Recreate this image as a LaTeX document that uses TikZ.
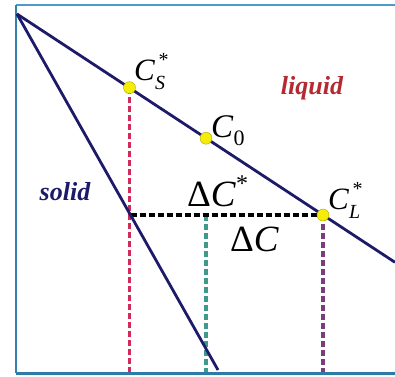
\documentclass[tikz,border=0pt]{standalone}
\usepackage{fontspec}
\setmainfont{Liberation Serif}
\definecolor{navy}{HTML}{1E1A6A}
\definecolor{framea}{HTML}{4B9BCF}
\definecolor{frameb}{HTML}{2A7BA5}
\definecolor{crim}{HTML}{D22A5A}
\definecolor{tealc}{HTML}{3E9A8C}
\definecolor{purp}{HTML}{7A3C7C}
\definecolor{liqred}{HTML}{B52A32}
\definecolor{dotyel}{HTML}{F6EC0A}
\newcommand{\fs}[1]{\fontsize{#1}{#1}\selectfont}
\begin{document}
\begin{tikzpicture}[x=1pt,y=-1pt,
  curve/.style={draw=navy,line width=2.8pt},
  dashline/.style={line width=3.2pt,dash pattern=on 6pt off 3pt},
  dot/.style={circle,fill=dotyel,draw=dotyel!70!black,line width=0.4pt,minimum size=12pt,inner sep=0pt},
  lbl/.style={inner sep=0pt,text=black},
  phase/.style={inner sep=0pt,font=\fs{26}\bfseries\itshape}]
\useasboundingbox (0,0) rectangle (395,376);
% frame
\draw[framea,line width=2.2pt] (16,5) -- (395,5);
\draw[frameb!80!framea,line width=2.4pt] (16,5) -- (16,373);
\draw[frameb,line width=3pt] (16,373) -- (395,373);
% points
\coordinate (A) at (17,14);
\coordinate (E) at (395,262.3);
\coordinate (B) at (218,370);
\coordinate (P) at (130.5,215);
\coordinate (Sb) at (129.5,372);
\coordinate (Cb) at (206,372);
\coordinate (Lb) at (323,372);
\coordinate (Cm) at (206,215);
% dashed lines
\draw[dashline,crim] (129.5,88) -- (Sb);
\draw[dashline,tealc] (Cm) -- (Cb);
\draw[dashline,purp] (323,215) -- (Lb);
\draw[dashline,black] (P) -- (323,215);
% curves
\draw[curve] (A) -- (E);
\draw[curve] (A) -- (B);
% dots
\node[dot] (CS) at (129.5,87.6) {};
\node[dot] (C0) at (206,138.2) {};
\node[dot] (CL) at (323,215) {};
% labels
\node[lbl,anchor=base west] (lCS) at (134,80) {\fs{31}\textit{C}\rlap{\raisebox{-0.3em}{\fs{20}\textit{S}}}\raisebox{0.45em}{\fs{20}\,*}};
\node[lbl,anchor=base west] (lC0) at (211,137) {\fs{33}\textit{C}\raisebox{-0.25em}{\fs{22}0}};
\node[lbl,anchor=base west] (lCL) at (328,209) {\fs{31}\textit{C}\rlap{\raisebox{-0.3em}{\fs{20}\textit{L}}}\raisebox{0.45em}{\fs{20}\,*}};
\node[lbl,anchor=base west] (lDCs) at (187,206) {\fs{37}Δ\textit{C}\raisebox{0.4em}{\fs{24}*}};
\node[lbl,anchor=base west] (lDC) at (230,251) {\fs{37}Δ\textit{C}};
\node[phase,text=liqred] (liq) at (312,88) {liquid};
\node[phase,text=navy] (sol) at (65,192) {solid};
\end{tikzpicture}
\end{document}
